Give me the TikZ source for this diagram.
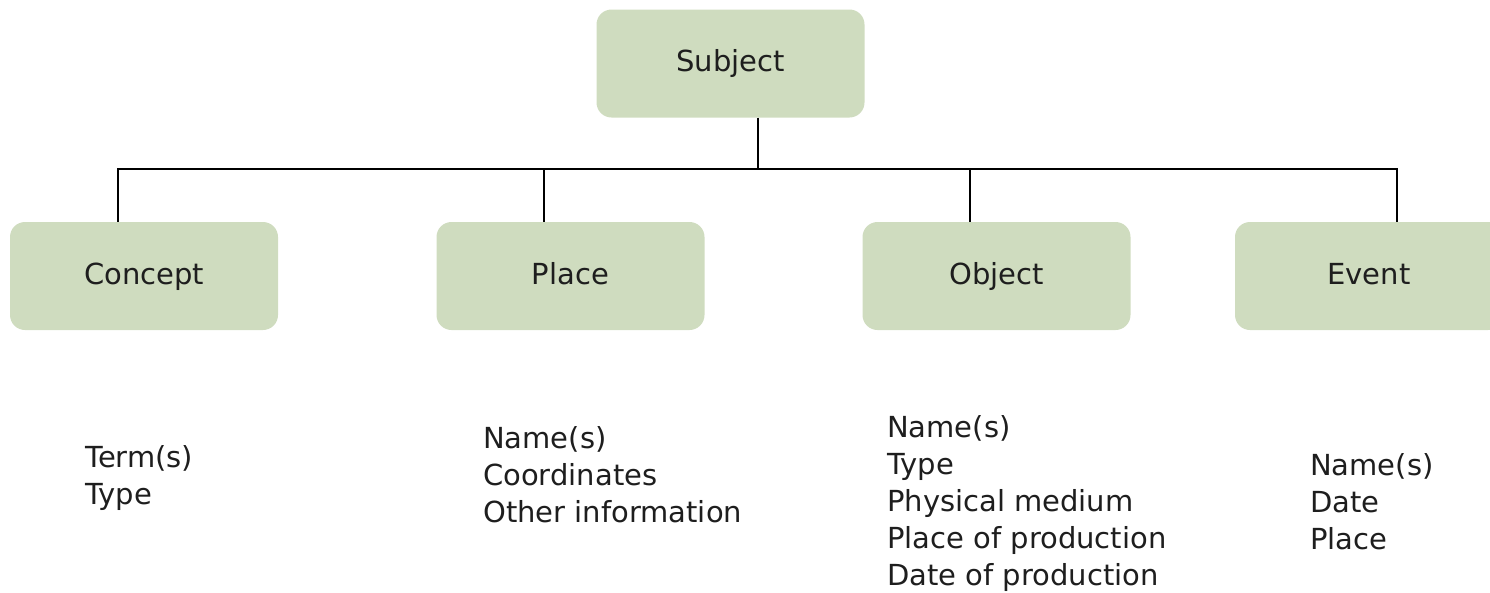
\documentclass[tikz,border=0pt]{standalone}
\usepackage{fontspec}
\setmainfont{DejaVu Sans}
\definecolor{boxgreen}{RGB}{207,220,191}
\definecolor{inkgray}{RGB}{30,30,30}
\begin{document}
\begin{tikzpicture}[x=1pt,y=-1pt,
  catbox/.style={fill=boxgreen, draw=none, rounded corners=15pt,
    minimum width=268pt, minimum height=108pt, inner sep=0pt,
    text height=22pt, text depth=6pt,
    font=\fontsize{29}{37}\selectfont, text=inkgray},
  fieldlist/.style={anchor=base west, align=left, inner sep=0pt,
    font=\fontsize{29}{37}\selectfont, text=inkgray},
  link/.style={line width=2pt, draw=black}]
\clip (0,0) rectangle (1490,592);
\useasboundingbox (0,0) rectangle (1490,592);

% category boxes
\node[catbox] (subject) at (730.5,63.5) {Subject};
\node[catbox] (concept) at (144,276) {Concept};
\node[catbox] (place)   at (570.5,276) {Place};
\node[catbox] (object)  at (996.5,276) {Object};
\node[catbox] (event)   at (1369,276) {Event};

% tree connectors
\coordinate (busl) at ([xshift=-26pt]concept.north |- 0,169);
\draw[link] ([xshift=27pt]subject.south) -- ([xshift=27pt]subject.south |- busl);
\draw[link] ([xshift=-26pt]concept.north) -- (busl) -| ([xshift=28pt]event.north);
\draw[link] ([xshift=-27pt]place.north) -- ([xshift=-27pt]place.north |- busl);
\draw[link] ([xshift=-27pt]object.north) -- ([xshift=-27pt]object.north |- busl);

% field lists (anchored at the baseline of the last line)
\node[fieldlist] (conceptfields) at (85,504) {Term(s)\\Type};
\node[fieldlist] (placefields) at (483,522) {Name(s)\\Coordinates\\Other information};
\node[fieldlist] (objectfields) at (887,585) {Name(s)\\Type\\Physical medium\\Place of production\\Date of production};
\node[fieldlist] (eventfields) at (1310,549) {Name(s)\\Date\\Place};
\end{tikzpicture}
\end{document}
